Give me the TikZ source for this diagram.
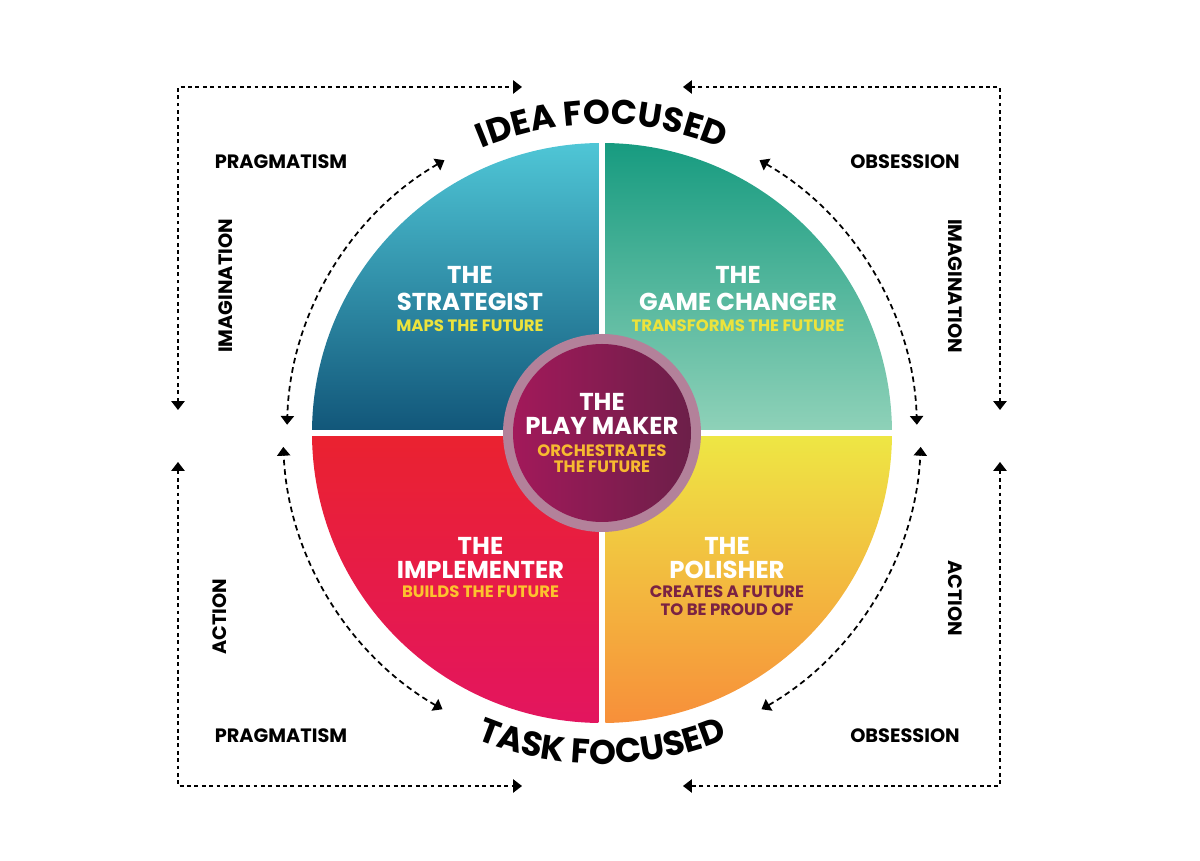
\documentclass[tikz,border=0pt]{standalone}
\usepackage{fontspec}
\setmainfont{Poppins}
\usetikzlibrary{arrows.meta, positioning, calc, decorations.text}
\definecolor{stratTop}{HTML}{4FC6D6}
\definecolor{stratBot}{HTML}{12577A}
\definecolor{gameTop}{HTML}{179B80}
\definecolor{gameBot}{HTML}{8ED1B8}
\definecolor{implTop}{HTML}{EA2230}
\definecolor{implBot}{HTML}{E3155F}
\definecolor{polTop}{HTML}{EEE644}
\definecolor{polBot}{HTML}{F78F3A}
\definecolor{ringmauve}{HTML}{B3819A}
\definecolor{playLeft}{HTML}{A2195A}
\definecolor{playRight}{HTML}{6C1F49}
\definecolor{tagyellow}{HTML}{ECE33C}
\definecolor{taggold}{HTML}{FCC22E}
\definecolor{tagorange}{HTML}{F7BA30}
\definecolor{tagmaroon}{HTML}{7A2343}
\newcommand\arcfont{\fontsize{19.5}{22}\selectfont\bfseries}

\begin{document}
\begin{tikzpicture}[
    x=0.02cm, y=0.02cm,
    >={Triangle[width=7.5pt,length=5pt]},
    roletitle/.style={anchor=base, inner sep=0pt, text=white, font=\fontsize{13.9}{16}\selectfont\bfseries},
    roletag/.style={anchor=base, inner sep=0pt, font=\fontsize{9.4}{11}\selectfont\bfseries},
    sidelabel/.style={inner sep=0pt, font=\fontsize{11}{13}\selectfont\bfseries},
    arcflow/.style={<->, line width=1pt, dash pattern=on 3.2pt off 2.2pt},
    bracketflow/.style={<->, line width=0.8pt, dash pattern=on 2.2pt off 2pt}
  ]
    \useasboundingbox (-602,-428) rectangle (598,433);

    % Quadrants
    \begin{scope}
      \clip (0,0) circle (290);
      \shade[top color=stratTop, bottom color=stratBot] (-290,3.5) rectangle (-3.5,290);
      \shade[top color=gameTop, bottom color=gameBot] (3.5,3.5) rectangle (290,290);
      \shade[top color=implTop, bottom color=implBot] (-290,-290) rectangle (-3.5,-3.5);
      \shade[top color=polTop, bottom color=polBot] (3.5,-290) rectangle (290,-3.5);
    \end{scope}

    % Centre disc
    \fill[ringmauve] (0,0) circle (99);
    \shade[left color=playLeft, right color=playRight] (0,0) circle (89);

    % Curved headings
    \path[decorate, decoration={text along path, text align=center, text={|\arcfont|IDEA FOCUSED}}]
      (130:309) arc[start angle=130, end angle=50, radius=309];
    \path[decorate, decoration={text along path, text align=center, text={|\arcfont|TASK FOCUSED}}]
      (220:331) arc[start angle=220, end angle=320, radius=331];

    % Arcs round the circle
    \coordinate (ideaL) at (120:315);
    \coordinate (ideaR) at (60:315);
    \coordinate (taskL) at (240:319);
    \coordinate (taskR) at (300:319);
    \draw[arcflow] (ideaL) arc[start angle=120, end angle=178.5, radius=315];
    \draw[arcflow] (ideaR) arc[start angle=60, end angle=1.5, radius=315];
    \draw[arcflow] (taskL) arc[start angle=240, end angle=182.5, radius=319];
    \draw[arcflow] (taskR) arc[start angle=300, end angle=357.5, radius=319];

    % Outer brackets
    \coordinate (outTL) at (-424,23);
    \coordinate (outTLend) at (-80,346);
    \coordinate (outTR) at (398,23);
    \coordinate (outTRend) at (81,346);
    \coordinate (outBL) at (-424,-29);
    \coordinate (outBLend) at (-80,-353);
    \coordinate (outBR) at (398,-29);
    \coordinate (outBRend) at (81,-353);
    \draw[bracketflow] (outTL) |- (outTLend);
    \draw[bracketflow] (outTR) |- (outTRend);
    \draw[bracketflow] (outBL) |- (outBLend);
    \draw[bracketflow] (outBR) |- (outBRend);

    % Side labels
    \node[sidelabel] (pragTop) at (-321,271) {PRAGMATISM};
    \node[sidelabel] (obsTop) at (303,271) {OBSESSION};
    \node[sidelabel] (pragBot) at (-321,-303) {PRAGMATISM};
    \node[sidelabel] (obsBot) at (303,-303) {OBSESSION};
    \node[sidelabel, rotate=90] (imagL) at (-376,147) {IMAGINATION};
    \node[sidelabel, rotate=-90] (imagR) at (353,147) {IMAGINATION};
    \node[sidelabel, rotate=90] (actL) at (-382,-184) {ACTION};
    \node[sidelabel, rotate=-90] (actR) at (353,-165) {ACTION};

    % Roles
    \node[roletitle] (stratA) at (-132,149) {THE};
    \node[roletitle] (stratB) at (-132,122) {STRATEGIST};
    \node[roletag, text=tagyellow] (stratC) at (-132,101) {MAPS THE FUTURE};

    \node[roletitle] (gameA) at (136,149) {THE};
    \node[roletitle] (gameB) at (136,122) {GAME CHANGER};
    \node[roletag, text=tagyellow] (gameC) at (136,101) {TRANSFORMS THE FUTURE};

    \node[roletitle] (implA) at (-121.5,-122) {THE};
    \node[roletitle] (implB) at (-121.5,-146) {IMPLEMENTER};
    \node[roletag, text=taggold] (implC) at (-121.5,-165) {BUILDS THE FUTURE};

    \node[roletitle] (polA) at (125,-122) {THE};
    \node[roletitle] (polB) at (125,-146) {POLISHER};
    \node[roletag, text=tagmaroon] (polC) at (125,-165) {CREATES A FUTURE};
    \node[roletag, text=tagmaroon] (polD) at (125,-183) {TO BE PROUD OF};

    \node[roletitle] (playA) at (0,22) {THE};
    \node[roletitle] (playB) at (0,-2) {PLAY MAKER};
    \node[roletag, text=tagorange] (playC) at (0,-24) {ORCHESTRATES};
    \node[roletag, text=tagorange] (playD) at (0,-40) {THE FUTURE};
  \end{tikzpicture}
\end{document}
